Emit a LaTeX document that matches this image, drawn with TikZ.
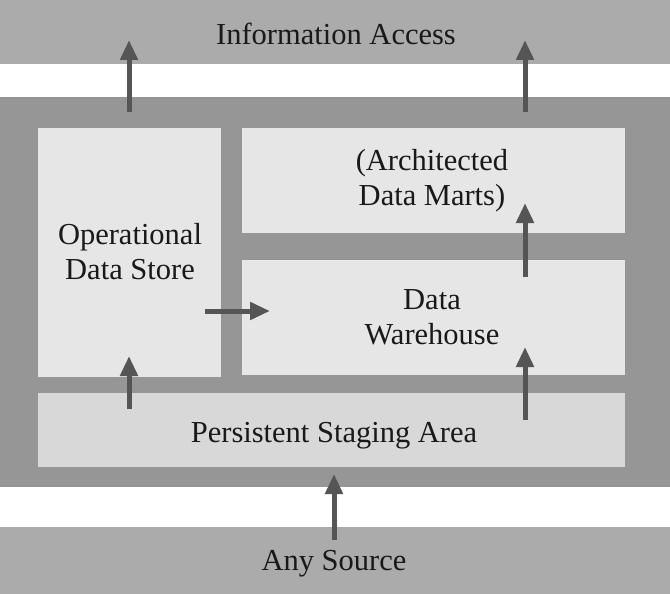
\documentclass[tikz,border=0pt]{standalone}
\usepackage{fontspec}
\setmainfont{Liberation Serif}
\usetikzlibrary{arrows.meta}
\definecolor{band}{HTML}{ABABAB}
\definecolor{outer}{HTML}{969696}
\definecolor{inner}{HTML}{E6E6E6}
\definecolor{stage}{HTML}{D8D8D8}
\definecolor{arr}{HTML}{555555}
\tikzset{
  lbl/.style={font=\fontsize{30.5}{35}\selectfont, align=center, text=black!90, inner sep=0pt},
  flow/.style={draw=arr, line width=5pt, -{Triangle[width=17pt,length=20pt]}}
}
\begin{document}
\begin{tikzpicture}[x=1pt,y=-1pt]
\useasboundingbox (0,0) rectangle (670,594);
\fill[band] (0,0) rectangle (670,64);
\fill[outer] (0,97) rectangle (670,487);
\fill[band] (0,527) rectangle (670,594);
\fill[inner] (38,128) rectangle (221,377);
\fill[inner] (242,128) rectangle (625,233);
\fill[inner] (242,260) rectangle (625,375);
\fill[stage] (38,393) rectangle (625,467);
\node[lbl] (ia) at (336,34) {Information Access};
\node[lbl] (dm) at (432,181) {(Architected\\Data Marts)};
\node[lbl] (ods) at (130,252) {Operational\\Data Store};
\node[lbl] (dw) at (432,317) {Data\\Warehouse};
\node[lbl] (psa) at (334,436) {Persistent Staging Area};
\node[lbl] (as) at (334,564) {Any Source};
\coordinate (a1s) at (129,112); \coordinate (a1e) at (129,40);
\coordinate (a2s) at (525,112); \coordinate (a2e) at (525,40);
\coordinate (a3s) at (205,311); \coordinate (a3e) at (270,311);
\coordinate (a4s) at (525,277); \coordinate (a4e) at (525,203);
\coordinate (a5s) at (525,420); \coordinate (a5e) at (525,347);
\coordinate (a6s) at (129,409); \coordinate (a6e) at (129,356);
\coordinate (a7s) at (334,540); \coordinate (a7e) at (334,474);
\draw[flow] (a1s) -- (a1e);
\draw[flow] (a2s) -- (a2e);
\draw[flow] (a3s) -- (a3e);
\draw[flow] (a4s) -- (a4e);
\draw[flow] (a5s) -- (a5e);
\draw[flow] (a6s) -- (a6e);
\draw[flow] (a7s) -- (a7e);
\end{tikzpicture}
\end{document}
